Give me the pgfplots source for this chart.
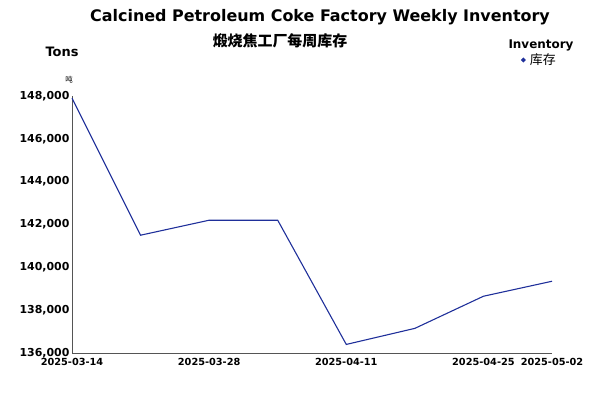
\documentclass[border=0pt]{standalone}
\usepackage{fontspec}
\usepackage{pgfplots}
\pgfplotsset{compat=1.18}
\setmainfont{DejaVu Sans}
\newfontfamily\cjk{Noto Sans CJK SC}
\definecolor{lineblue}{HTML}{1F2F9A}
\definecolor{axgray}{HTML}{555555}
\begin{document}
\begin{tikzpicture}
\path[use as bounding box] (0bp,0bp) rectangle (600bp,413bp);
\node[font=\fontsize{16}{18}\selectfont\bfseries] at (320bp,396bp) {Calcined Petroleum Coke Factory Weekly Inventory};
\node[font=\cjk\fontsize{15}{17}\selectfont\bfseries] at (280bp,372bp) {煅烧焦工厂每周库存};
\node[font=\fontsize{13}{15}\selectfont\bfseries] at (62bp,361bp) {Tons};
\node[font=\fontsize{12}{14}\selectfont\bfseries] at (541bp,368bp) {Inventory};
\begin{axis}[
  at={(72bp,60bp)}, anchor=south west,
  scale only axis, width=480bp, height=257bp,
  xmin=0, xmax=7, ymin=136000, ymax=148000,
  axis lines*=left,
  axis line style={axgray, line width=1pt, -},
  xtick={0,2,4,6,7},
  xticklabels={2025-03-14,2025-03-28,2025-04-11,2025-04-25,2025-05-02},
  ytick={136000,138000,140000,142000,144000,146000,148000},
  yticklabels={136{,}000,138{,}000,140{,}000,142{,}000,144{,}000,146{,}000,148{,}000},
  scaled y ticks=false,
  major tick length=0pt,
  yticklabel style={font=\fontsize{11}{13}\selectfont\bfseries, xshift=1bp},
  xticklabel style={font=\fontsize{9.8}{11}\selectfont\bfseries, yshift=-2bp},
  clip=false,
  legend style={at={(1.0125,1.14)}, anchor=east, draw=none, fill=none,
    font=\cjk\fontsize{13}{15}\selectfont, inner sep=0pt},
  legend cell align=left,
  legend image code/.code={\fill[lineblue] (0.1cm,0) circle (1.8bp);},
]
\addplot[lineblue, line width=1.1pt, mark=none] coordinates {
(0,147900) (1,141500) (2,142200) (3,142200) (4,136400) (5,137150) (6,138650) (7,139350)
};
\addlegendentry{\,库存}
\node[font=\cjk\fontsize{7.5}{9}\selectfont, anchor=south] at (axis cs:0,148000) [yshift=9bp, xshift=-3bp] {吨};
\end{axis}
\end{tikzpicture}
\end{document}
